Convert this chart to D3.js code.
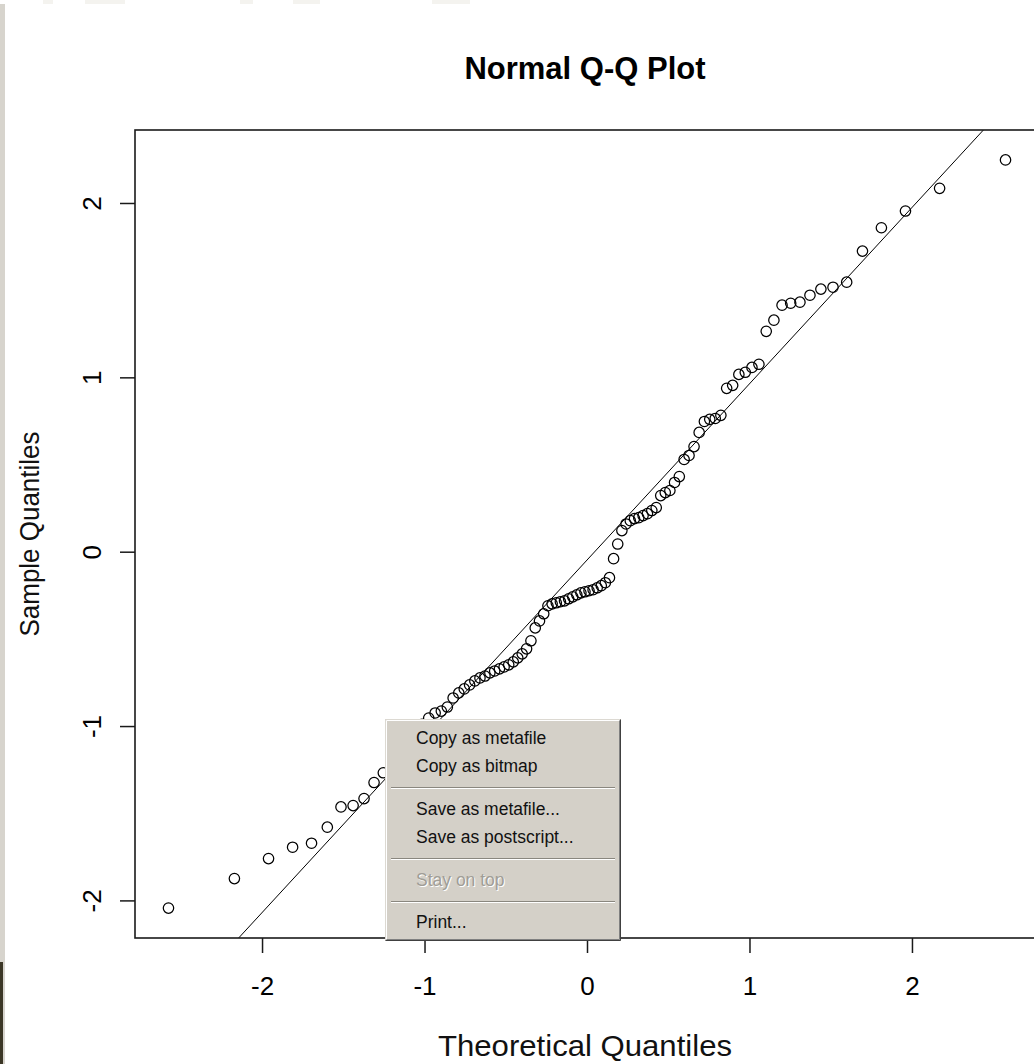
<!DOCTYPE html>
<html>
<head>
<meta charset="utf-8">
<script src="https://cdn.jsdelivr.net/npm/d3@7"></script>
<style>
  html, body { margin: 0; padding: 0; background: #ffffff; }
  svg { display: block; }
  text { font-family: "Liberation Sans", Arial, sans-serif; }
</style>
</head>
<body>
<svg id="chart" width="1034" height="1064"></svg>
<script>
// Theoretical normal quantiles for n = 100 (ppoints: (i - 0.5) / n)
const theoretical = [
  -2.5758, -2.1701, -1.9600, -1.8119, -1.6954, -1.5982, -1.5141, -1.4395, -1.3722, -1.3106,
  -1.2536, -1.2004, -1.1503, -1.1031, -1.0581, -1.0152, -0.9741, -0.9346, -0.8965, -0.8596,
  -0.8239, -0.7892, -0.7554, -0.7225, -0.6903, -0.6588, -0.6280, -0.5978, -0.5681, -0.5388,
  -0.5101, -0.4817, -0.4538, -0.4261, -0.3989, -0.3719, -0.3451, -0.3186, -0.2924, -0.2663,
  -0.2404, -0.2147, -0.1891, -0.1637, -0.1383, -0.1130, -0.0878, -0.0627, -0.0376, -0.0125,
   0.0125,  0.0376,  0.0627,  0.0878,  0.1130,  0.1383,  0.1637,  0.1891,  0.2147,  0.2404,
   0.2663,  0.2924,  0.3186,  0.3451,  0.3719,  0.3989,  0.4261,  0.4538,  0.4817,  0.5101,
   0.5388,  0.5681,  0.5978,  0.6280,  0.6588,  0.6903,  0.7225,  0.7554,  0.7892,  0.8239,
   0.8596,  0.8965,  0.9346,  0.9741,  1.0152,  1.0581,  1.1031,  1.1503,  1.2004,  1.2536,
   1.3106,  1.3722,  1.4395,  1.5141,  1.5982,  1.6954,  1.8119,  1.9600,  2.1701,  2.5758
];

// Sorted sample values
const sample = [
  -2.044, -1.875, -1.760, -1.695, -1.672, -1.580, -1.464, -1.456, -1.416, -1.324,
  -1.268, -1.210, -1.160, -1.100, -1.040, -0.990, -0.954, -0.925, -0.914, -0.891,
  -0.839, -0.810, -0.787, -0.764, -0.741, -0.724, -0.713, -0.695, -0.684, -0.672,
  -0.661, -0.649, -0.632, -0.609, -0.586, -0.557, -0.511, -0.437, -0.397, -0.356,
  -0.310, -0.299, -0.293, -0.287, -0.282, -0.270, -0.259, -0.247, -0.236, -0.230,
  -0.224, -0.218, -0.207, -0.195, -0.178, -0.149, -0.040,  0.044,  0.121,  0.159,
   0.178,  0.190,  0.195,  0.207,  0.218,  0.236,  0.253,  0.322,  0.339,  0.351,
   0.397,  0.431,  0.529,  0.552,  0.603,  0.684,  0.747,  0.759,  0.764,  0.782,
   0.937,  0.954,  1.017,  1.029,  1.057,  1.075,  1.264,  1.328,  1.414,  1.425,
   1.431,  1.471,  1.506,  1.517,  1.546,  1.724,  1.858,  1.954,  2.084,  2.247
];

// Reference line through the quartiles
const lineIntercept = -0.048;
const lineSlope = 1.011;

const xTicks = [-2, -1, 0, 1, 2];
const yTicks = [-2, -1, 0, 1, 2];

const titleText = "Normal Q-Q Plot";
const xLabel = "Theoretical Quantiles";
const yLabel = "Sample Quantiles";

const menuItems = [
  { label: "Copy as metafile", enabled: true },
  { label: "Copy as bitmap", enabled: true },
  { separator: true },
  { label: "Save as metafile...", enabled: true },
  { label: "Save as postscript...", enabled: true },
  { separator: true },
  { label: "Stay on top", enabled: false },
  { separator: true },
  { label: "Print...", enabled: true }
];

// ---------------------------------------------------------------
const svg = d3.select("#chart");
const W = 1034, H = 1064;
const box = { left: 135, right: 1039, top: 130, bottom: 938 };

// Window chrome around the graphics device
svg.append("rect").attr("x", 0).attr("y", 0).attr("width", W).attr("height", H).attr("fill", "#ffffff");
const topPatches = [[43, 10], [85, 40], [240, 13], [293, 27], [432, 38]];
svg.append("g").selectAll("rect").data(topPatches).join("rect")
  .attr("x", d => d[0]).attr("y", 0).attr("width", d => d[1]).attr("height", 4)
  .attr("fill", "#f4f3ef");
svg.append("rect").attr("x", 0).attr("y", 4).attr("width", 5).attr("height", H - 4).attr("fill", "#d7d4cd");
svg.append("rect").attr("x", 0).attr("y", 962).attr("width", 3).attr("height", H - 962).attr("fill", "#3b3626");

// R-style axis extent: data range widened by 4% on each side
function rExtent(values) {
  const [lo, hi] = d3.extent(values);
  const pad = (hi - lo) * 0.04;
  return [lo - pad, hi + pad];
}

const x = d3.scaleLinear().domain(rExtent(theoretical)).range([box.left, box.right]);
const y = d3.scaleLinear().domain(rExtent(sample)).range([box.bottom, box.top]);

const plot = svg.append("g");

// Clip for plot-region drawing
svg.append("defs").append("clipPath").attr("id", "plotClip")
  .append("rect")
  .attr("x", box.left).attr("y", box.top)
  .attr("width", box.right - box.left).attr("height", box.bottom - box.top);

// Reference line
const [x0, x1] = x.domain();
plot.append("line")
  .attr("clip-path", "url(#plotClip)")
  .attr("x1", x(x0)).attr("y1", y(lineIntercept + lineSlope * x0))
  .attr("x2", x(x1)).attr("y2", y(lineIntercept + lineSlope * x1))
  .attr("stroke", "#000").attr("stroke-width", 1);

// Points
plot.append("g")
  .attr("clip-path", "url(#plotClip)")
  .selectAll("circle")
  .data(d3.zip(theoretical, sample))
  .join("circle")
  .attr("cx", d => x(d[0]))
  .attr("cy", d => y(d[1]))
  .attr("r", 5.2)
  .attr("fill", "none")
  .attr("stroke", "#000")
  .attr("stroke-width", 1.25);

// Plot box
plot.append("rect")
  .attr("x", box.left).attr("y", box.top)
  .attr("width", box.right - box.left).attr("height", box.bottom - box.top)
  .attr("fill", "none").attr("stroke", "#1a1a1a").attr("stroke-width", 1.6);

// Bottom axis
const xAxis = svg.append("g")
  .attr("transform", `translate(0,${box.bottom})`)
  .call(d3.axisBottom(x).tickValues(xTicks).tickSize(15).tickFormat(d => String(d)));
xAxis.select(".domain").remove();
xAxis.selectAll(".tick line").attr("stroke", "#1a1a1a").attr("stroke-width", 1.5);
xAxis.selectAll(".tick text")
  .attr("y", 57).attr("dy", null)
  .attr("fill", "#000")
  .style("font-size", "26px")
  .style("font-family", "'Liberation Sans', Arial, sans-serif");

// Left axis with labels written parallel to the axis
const yAxis = svg.append("g")
  .attr("transform", `translate(${box.left},0)`)
  .call(d3.axisLeft(y).tickValues(yTicks).tickSize(15).tickFormat(d => String(d)));
yAxis.select(".domain").remove();
yAxis.selectAll(".tick line").attr("stroke", "#1a1a1a").attr("stroke-width", 1.5);
yAxis.selectAll(".tick text")
  .attr("x", 0).attr("y", 0).attr("dy", null)
  .attr("transform", "translate(-34,0) rotate(-90)")
  .attr("text-anchor", "middle")
  .attr("fill", "#000")
  .style("font-size", "26px")
  .style("font-family", "'Liberation Sans', Arial, sans-serif");

// Titles
const cx = (box.left + box.right) / 2 - 2;
svg.append("text")
  .attr("x", cx).attr("y", 79)
  .attr("text-anchor", "middle")
  .style("font-size", "31px").style("font-weight", "bold")
  .attr("fill", "#000")
  .text(titleText);

svg.append("text")
  .attr("x", cx).attr("y", 1056)
  .attr("text-anchor", "middle")
  .attr("textLength", 294)
  .attr("lengthAdjust", "spacingAndGlyphs")
  .style("font-size", "29px")
  .attr("fill", "#111")
  .text(xLabel);

svg.append("text")
  .attr("transform", `translate(39,${(box.top + box.bottom) / 2}) rotate(-90)`)
  .attr("text-anchor", "middle")
  .attr("textLength", 205)
  .attr("lengthAdjust", "spacingAndGlyphs")
  .style("font-size", "27px")
  .attr("fill", "#111")
  .text(yLabel);

// Context menu of the graphics window
const menu = { x: 385, y: 719, w: 236, h: 222 };
const mg = svg.append("g").attr("transform", `translate(${menu.x},${menu.y})`);
mg.append("rect").attr("width", menu.w).attr("height", menu.h).attr("fill", "#d4d0c8");
// 3D border
mg.append("path").attr("d", `M0.5,${menu.h - 0.5} V0.5 H${menu.w - 0.5}`).attr("fill", "none").attr("stroke", "#dcd9d2");
mg.append("path").attr("d", `M1.5,${menu.h - 1.5} V1.5 H${menu.w - 1.5}`).attr("fill", "none").attr("stroke", "#ffffff");
mg.append("path").attr("d", `M0.5,${menu.h - 0.5} H${menu.w - 0.5} V0.5`).attr("fill", "none").attr("stroke", "#404040");
mg.append("path").attr("d", `M1.5,${menu.h - 1.5} H${menu.w - 1.5} V1.5`).attr("fill", "none").attr("stroke", "#808080");

const rowBaselines = [25, 53, 68, 96, 124, 139, 167, 182, 209];
menuItems.forEach((item, i) => {
  const yy = rowBaselines[i];
  if (item.separator) {
    mg.append("line").attr("x1", 6).attr("x2", menu.w - 6).attr("y1", yy + 0.5).attr("y2", yy + 0.5)
      .attr("stroke", "#8a877f");
    mg.append("line").attr("x1", 6).attr("x2", menu.w - 6).attr("y1", yy + 1.5).attr("y2", yy + 1.5)
      .attr("stroke", "#ffffff");
  } else if (item.enabled) {
    mg.append("text").attr("x", 31).attr("y", yy)
      .style("font-size", "17.5px").attr("fill", "#111").text(item.label);
  } else {
    mg.append("text").attr("x", 32).attr("y", yy + 1)
      .style("font-size", "17.5px").attr("fill", "#ffffff").text(item.label);
    mg.append("text").attr("x", 31).attr("y", yy)
      .style("font-size", "17.5px").attr("fill", "#a09d96").text(item.label);
  }
});
</script>
</body>
</html>
